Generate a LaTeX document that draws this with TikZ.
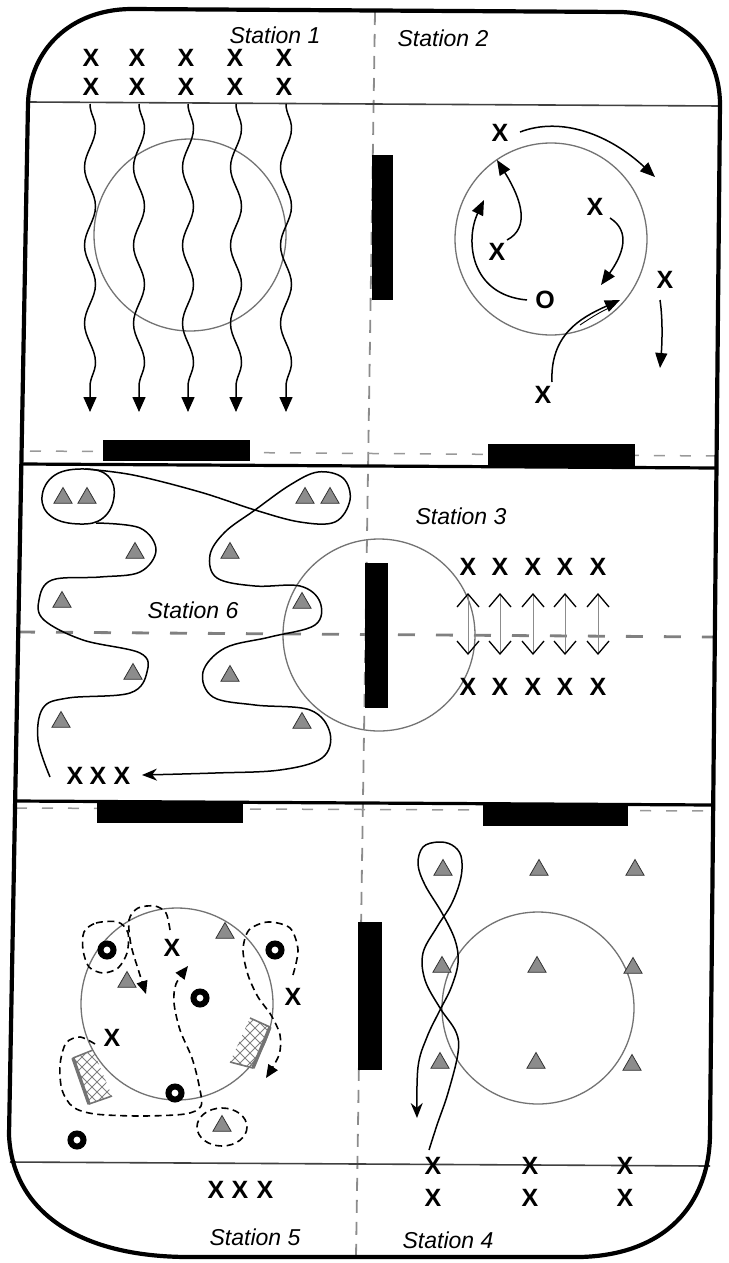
\documentclass[tikz,border=0pt]{standalone}
\usepackage{fontspec}
\setmainfont{Liberation Sans}
\usetikzlibrary{arrows.meta,decorations.pathmorphing,shapes.geometric}
\begin{document}
\begin{tikzpicture}[x=1pt,y=-1pt,
  xmark/.style={font=\fontsize{25}{25}\selectfont\bfseries, inner sep=0},
  stname/.style={font=\fontsize{23}{23}\selectfont\itshape, inner sep=0},
  cone/.style={regular polygon, regular polygon sides=3, minimum size=21, inner sep=0,
               fill=black!45, draw=black!80, line width=0.8},
  ring/.style={circle, draw=black, line width=6, minimum size=13, inner sep=0},
  area/.style={draw=black!55, line width=1.3},
  centreline/.style={draw=black!45, line width=1.8, dash pattern=on 13 off 9},
  thindash/.style={draw=black!40, line width=1.5, dash pattern=on 11 off 15},
  halfway/.style={draw=black!50, line width=2.8, dash pattern=on 17 off 21},
  run/.style={line width=1.5, -{Triangle[length=15,width=12]}},
  weave/.style={line width=1.5},
  dribble/.style={line width=1.6, dash pattern=on 7 off 4.5},
  dtip/.style={-{Triangle[length=13,width=11]}},
  shuttle/.style={draw=black!45, line width=0.9,
    {Straight Barb[color=black,length=13,width=22,line width=1.3]}-{Straight Barb[color=black,length=13,width=22,line width=1.3]}},
  netline/.style={draw=black!50, line width=0.9},
  goalframe/.style={draw=black!55, line width=1.6, line join=round},
  goalback/.style={draw=black!55, line width=3.4}
]
\useasboundingbox (0,0) rectangle (728,1263);

% ---- centre circles of the six stations ----
\draw[area] (190,235) circle[radius=96];
\draw[area] (551,239) circle[radius=96];
\draw[area] (379,635) circle[radius=96];
\draw[area] (177,1004) circle[radius=96];
\draw[area] (538,1008) circle[radius=96];

% ---- grey dashed division lines ----
\draw[centreline] (375,12) -- (356,1257);
\draw[thindash] (30,451) -- (716,456);
\draw[halfway] (18,632) -- (716,637);
\draw[thindash] (16,808) -- (711,811);

% ---- field lines ----
\draw[line width=1.6, black!75] (28,102) -- (720,106);
\draw[line width=3.2] (21,464) -- (717,468);
\draw[line width=3.2] (15,801) -- (713,805);
\draw[line width=1.6, black!75] (10,1162) -- (710,1166);

% ---- benches / boards ----
\fill (103,440) rectangle (250,461);
\fill (488,444) rectangle (635,466);
\fill (372,155) rectangle (393,300);
\fill (365,563) rectangle (388,708);
\fill (97,803) rectangle (243,823);
\fill (483,805) rectangle (628,826);
\fill (358,922) rectangle (382,1070);

% ---- outer boundary ----
\draw[line width=4.2, line join=round]
  (130,9) -- (622,12) .. controls (690,16) and (719,55) .. (720,103)
  -- (710,1135) .. controls (709,1205) and (665,1255) .. (580,1257)
  -- (186,1257) .. controls (70,1256) and (12,1205) .. (9,1135)
  -- (28,103) .. controls (30,50) and (70,10) .. (130,9) -- cycle;

% ---- station labels ----
\node[stname] (l1) at (275,35) {Station 1};
\node[stname] (l2) at (443,38) {Station 2};
\node[stname] (l3) at (461,516) {Station 3};
\node[stname] (l6) at (193,610) {Station 6};
\node[stname] (l5) at (255,1237) {Station 5};
\node[stname] (l4) at (448,1240) {Station 4};

% ---- Station 1: two rows, weaving runs across the field ----
\foreach \i/\x in {1/91,2/137,3/186,4/235,5/284}{
  \node[xmark] (sa\i) at (\x,58) {X};
  \node[xmark] (sb\i) at (\x,87) {X};
}
\foreach \x in {90,139,188,236,286}
  \draw[line width=1.5, decorate,
        decoration={snake, segment length=78, amplitude=5.5, post length=22},
        -{Triangle[length=15,width=13]}] (\x,104) -- (\x,412);

% ---- Station 2: passing around the circle ----
\node[xmark] (b1) at (500,133) {X};
\node[xmark] (b2) at (595,207) {X};
\node[xmark] (b3) at (497,252) {X};
\node[xmark] (bo) at (545,300) {O};
\node[xmark] (b4) at (665,280) {X};
\node[xmark] (b5) at (543,395) {X};
\draw[run] (520,132) .. controls (562,116) and (610,135) .. (655,177);
\draw[run] (507,240) .. controls (530,228) and (522,200) .. (497,160);
\draw[run] (527,300) .. controls (470,295) and (465,240) .. (484,200);
\draw[run] (610,218) .. controls (632,232) and (622,256) .. (601,285);
\draw[run] (552,382) .. controls (550,335) and (580,318) .. (620,300);
\draw[line width=0.9] (580,325) .. controls (592,317) and (603,310) .. (614,306);
\draw[run] (660,300) .. controls (663,320) and (662,345) .. (660,368);

% ---- Station 6: slalom through the cones ----
\foreach \n/\p in {1/{(63,498)},2/{(87,498)},3/{(305,498)},4/{(330,498)},
                   5/{(135,553)},6/{(230,553)},7/{(62,602)},8/{(302,603)},
                   9/{(133,674)},10/{(230,676)},11/{(61,722)},12/{(302,723)}}
  \node[cone] (f\n) at \p {};
\draw[weave] plot[smooth cycle, tension=0.7] coordinates
  {(42,497) (55,475) (85,469) (108,476) (114,497) (103,518) (80,524) (52,517)};
\draw[weave] plot[smooth, tension=0.6] coordinates
  {(96,523) (140,528) (156,550) (140,572) (100,577) (52,580) (39,600) (44,620)
   (83,640) (140,653) (147,672) (130,693) (68,698) (43,708) (38,740) (50,777)};
\draw[weave, -{Stealth[length=15,width=12]}] plot[smooth, tension=0.6] coordinates
  {(85,469) (133,475) (200,492) (255,510) (300,522) (335,522) (350,500) (343,478)
   (318,472) (290,485) (255,510) (225,532) (210,555) (217,578) (255,586) (300,586)
   (320,602) (315,625) (270,637) (225,648) (203,672) (213,697) (255,705) (310,710)
   (330,733) (322,758) (280,770) (215,773) (142,775)};
\node[xmark] (q1) at (75,776) {X};
\node[xmark] (q2) at (98,776) {X};
\node[xmark] (q3) at (122,776) {X};

% ---- Station 3: shuttle between two lines ----
\foreach \i/\x in {1/468,2/500,3/533,4/565,5/598}{
  \node[xmark] (ta\i) at (\x,567) {X};
  \node[xmark] (tb\i) at (\x,687) {X};
  \draw[shuttle] (\x,593) -- (\x,655);
}

% ---- Station 5: small goals, cones and dribbling routes ----
\begin{scope}
  \clip (73,1058) -- (93,1050) -- (112,1096) -- (89,1104) -- cycle;
  \foreach \k in {-60,-50,...,60}{
    \draw[netline] (92+\k-40,1037) -- (92+\k+40,1117);
    \draw[netline] (92+\k-40,1117) -- (92+\k+40,1037);
  }
\end{scope}
\draw[goalframe] (93,1050) -- (73,1058) -- (89,1104) -- (112,1096);
\draw[goalback] (73,1058) -- (89,1104);
\begin{scope}
  \clip (250,1018) -- (270,1027) -- (253,1068) -- (230,1062) -- cycle;
  \foreach \k in {-60,-50,...,60}{
    \draw[netline] (250+\k-40,1003) -- (250+\k+40,1083);
    \draw[netline] (250+\k-40,1083) -- (250+\k+40,1003);
  }
\end{scope}
\draw[goalframe] (250,1018) -- (270,1027) -- (253,1068) -- (230,1062);
\draw[goalback] (270,1027) -- (253,1068);

\draw[dribble, dtip] plot[smooth] coordinates
  {(170,930) (166,913) (155,906) (138,908) (129,920) (131,945) (139,972) (146,994)};
\draw[dribble] plot[smooth cycle] coordinates
  {(84,932) (96,923) (118,922) (128,933) (127,953) (118,968) (103,973) (89,967) (83,950)};
\draw[dribble] (222,1127) ellipse[x radius=25, y radius=19];
\draw[dribble, dtip] plot[smooth] coordinates
  {(95,1044) (80,1037) (66,1043) (60,1065) (62,1090) (73,1107) (95,1114) (140,1116)
   (185,1114) (201,1106) (199,1085) (192,1058) (180,1030) (174,1003) (176,984) (188,966)};
\draw[dribble, dtip] plot[smooth] coordinates
  {(293,975) (298,950) (290,928) (268,922) (249,930) (243,950) (248,975) (258,997)
   (271,1015) (280,1035) (279,1055) (266,1078)};

\node[ring] (r1) at (107,950) {};
\node[ring] (r2) at (275,950) {};
\node[ring] (r3) at (200,998) {};
\node[ring] (r4) at (175,1093) {};
\node[ring] (r5) at (77,1140) {};
\node[cone] (g1) at (225,933) {};
\node[cone] (g2) at (127,982) {};
\node[cone] (g3) at (222,1126) {};
\node[xmark] (p1) at (172,948) {X};
\node[xmark] (p2) at (293,997) {X};
\node[xmark] (p3) at (112,1038) {X};
\node[xmark] (w1) at (216,1190) {X};
\node[xmark] (w2) at (240,1190) {X};
\node[xmark] (w3) at (265,1190) {X};

% ---- Station 4: grid of cones, figure-of-eight run ----
\foreach \n/\p in {1/{(443,870)},2/{(539,870)},3/{(635,870)},
                   4/{(442,967)},5/{(537,967)},6/{(633,968)},
                   7/{(440,1063)},8/{(536,1063)},9/{(632,1065)}}
  \node[cone] (h\n) at \p {};
\draw[weave, -{Stealth[length=15,width=12]}] plot[smooth, tension=0.6] coordinates
  {(429,1150) (437,1125) (448,1093) (458,1053) (456,1032) (440,1008) (425,980)
   (423,953) (437,927) (452,903) (461,877) (461,856) (452,845) (438,842) (423,847)
   (418,864) (425,885) (442,913) (455,940) (458,963) (451,988) (440,1010) (427,1037)
   (418,1067) (417,1118)};
\foreach \i/\x in {1/433,2/530,3/625}{
  \node[xmark] (ua\i) at (\x,1166) {X};
  \node[xmark] (ub\i) at (\x,1198) {X};
}
\end{tikzpicture}
\end{document}
